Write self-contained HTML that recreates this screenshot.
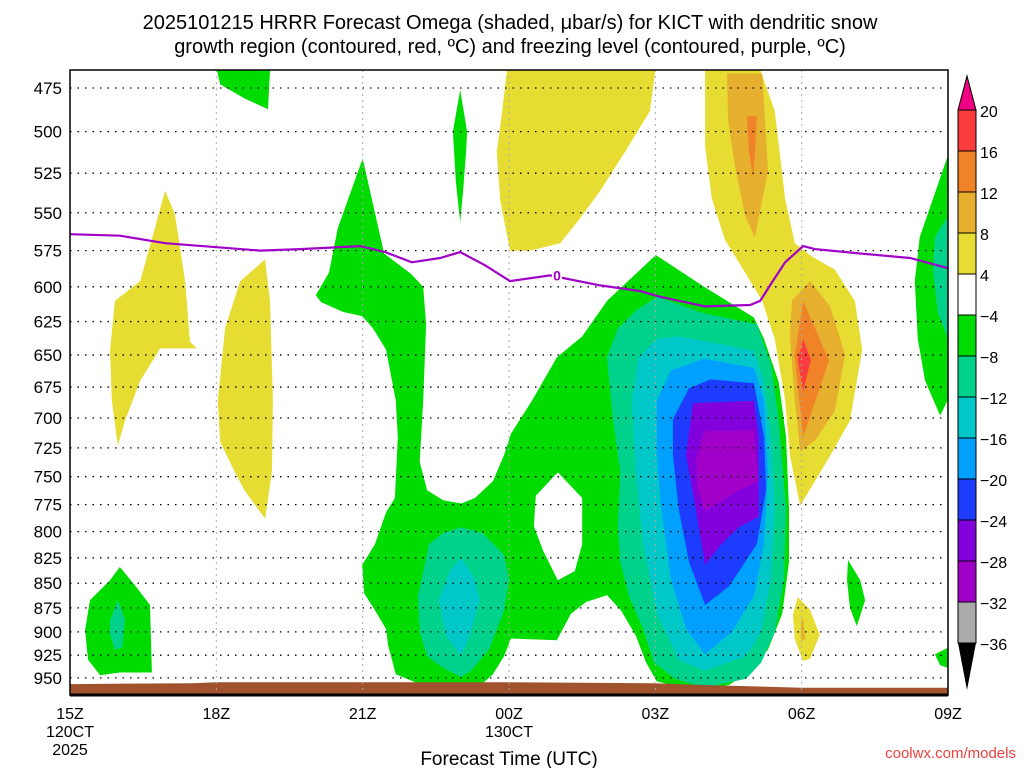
<!DOCTYPE html>
<html><head><meta charset="utf-8"><style>
body{margin:0;background:#fff;width:1024px;height:768px;overflow:hidden}
svg text{font-family:"Liberation Sans",sans-serif}
</style></head><body>
<svg id="chart" width="1024" height="768" xmlns="http://www.w3.org/2000/svg">
<text x="510" y="29" font-size="20" text-anchor="middle">2025101215 HRRR Forecast Omega (shaded, μbar/s) for KICT with dendritic snow</text>
<text x="510" y="53" font-size="20" text-anchor="middle">growth region (contoured, red, ºC) and freezing level (contoured, purple, ºC)</text>
<g id="fills"></g>
<g id="grid"></g>
<g id="lines"></g>
<g id="axes"></g>
<g id="cbar"></g>
<text x="509" y="765" font-size="19" text-anchor="middle">Forecast Time (UTC)</text>
<text x="1016" y="758" font-size="15" fill="#f04040" text-anchor="end">coolwx.com/models</text>
</svg>
<script>
const NS="http://www.w3.org/2000/svg";
const pLevels=[475,500,525,550,575,600,625,650,675,700,725,750,775,800,825,850,875,900,925,950];
const timeHours=[0,3,6,9,12,15,18];
const timeLabels=["15Z","18Z","21Z","00Z","03Z","06Z","09Z"];
const cbLevels=[20,16,12,8,4,-4,-8,-12,-16,-20,-24,-28,-32,-36];
const cbColors=["#fa3c3c","#f08228","#e6af2d","#e6dc32","#ffffff","#00dc00","#00d28c","#00c8c8","#00a0ff","#1e3cff","#8200dc","#a000c8","#aaaaaa"];
const C={y:"#e6dc32",lo:"#e6af2d",o:"#f08228",r:"#fa3c3c",g:"#00dc00",tg:"#00d28c",c:"#00c8c8",lb:"#00a0ff",b:"#1e3cff",pu:"#8200dc",m:"#a000c8",w:"#ffffff"};
const yellowRight=[[13.02,465],[14.15,465],[14.45,488],[14.66,541],[14.86,570],[15.21,579],[15.68,588],[16.09,610],[16.24,646],[15.99,702],[15.58,732],[14.97,776],[14.76,732],[14.66,685],[14.45,638],[14.19,610],[13.84,590],[13.43,568],[13.16,541],[13.02,509]];
const lightOrangeRight=[[14.8,610],[15.17,596],[15.58,614],[15.89,650],[15.68,694],[15.27,719],[14.97,728],[14.86,685],[14.76,638]];
const orangeRight=[[15.03,610],[15.56,654],[15.03,716],[14.86,651]];
const redRight=[[15.03,638],[15.19,654],[15.03,678],[14.92,654]];
const lightOrangeTop=[[13.47,467],[14.19,467],[14.31,524],[14.04,566],[13.84,552],[13.63,520],[13.49,493]];
const orangeTop=[[13.88,491],[14.08,491],[14.04,515],[14.0,527],[13.92,512]];
const yellowMid=[[8.96,465],[12.0,465],[11.89,488],[11.38,512],[10.87,536],[10.45,554],[10.05,570],[9.43,575],[9.02,575],[8.82,542],[8.75,512],[8.86,488]];
const greenSpike=[[8.0,476],[8.14,500],[8.12,512],[8.06,536],[8.0,556],[7.91,530],[7.85,500]];
const greenTopLeft=[[3.01,465],[4.1,465],[4.06,487],[3.59,481],[3.08,473]];
const yellow16=[[0.82,647],[0.92,610],[1.44,596],[1.74,560],[1.95,536],[2.15,551],[2.36,596],[2.46,640],[2.6,645],[1.85,645],[1.44,670],[1.13,702],[0.98,723],[0.86,686]];
const yellow19=[[3.03,686],[3.18,630],[3.49,596],[4.0,581],[4.1,610],[4.16,686],[4.14,746],[4.0,788],[3.59,763],[3.38,746],[3.08,720]];
const greenLL=[[0.41,867],[0.82,847],[1.02,834],[1.33,852],[1.64,872],[1.68,944],[1.02,944],[0.62,947],[0.37,930],[0.31,898]];
const tealLL=[[0.82,888],[0.98,867],[1.13,888],[1.07,917],[0.92,919],[0.82,903]];
const greenRightEdge=[[17.42,566],[18,514],[18,685],[17.84,698],[17.53,670],[17.38,638],[17.32,596]];
const tealRightEdge=[[17.73,566],[18,552],[18,638],[17.79,618],[17.69,589]];
const green07=[[15.95,827],[16.2,847],[16.3,867],[16.13,894],[15.99,875],[15.93,847]];
const yellow06=[[14.92,864],[15.17,877],[15.37,903],[15.17,929],[15.03,931],[14.86,908],[14.82,882]];
const orange06=[[14.99,888],[15.03,886],[15.07,908],[14.99,908]];
const greenBR=[[17.73,924],[18,917],[18,939],[17.84,936]];
const greenMain=[[6.0,516],[6.44,577],[6.99,591],[7.24,600],[7.30,627],[7.24,686],[7.17,737],[7.32,762],[7.65,771],[8.02,774],[8.30,769],[8.67,754],[8.90,731],[9.04,713],[9.47,686],[9.98,652],[10.5,636],[11.01,610],[12.01,578],[13.0,600],[14.02,622],[14.23,638],[14.53,671],[14.68,716],[14.74,779],[14.74,829],[14.60,881],[14.31,919],[13.94,942],[13.51,958],[13.0,962],[12.48,960],[12.03,954],[11.81,933],[11.6,904],[11.3,878],[11.01,862],[10.58,869],[10.27,881],[9.98,909],[9.04,907],[8.90,926],[8.67,946],[8.38,960],[7.93,963],[7.5,960],[7.13,956],[6.68,946],[6.52,914],[6.48,897],[6.21,874],[6.03,860],[5.99,832],[6.25,812],[6.48,782],[6.66,769],[6.72,716],[6.68,686],[6.48,646],[6.21,630],[5.99,621],[5.6,618],[5.15,611],[5.04,606],[5.31,590],[5.49,560]];
const holeMid=[[10.0,746],[10.5,769],[10.5,812],[10.35,838],[10.0,847],[9.7,818],[9.51,795],[9.55,767]];
const tealLower=[[7.13,863],[7.36,812],[7.65,801],[8.02,796],[8.45,801],[8.9,822],[9.0,846],[8.9,878],[8.59,919],[8.22,942],[8.02,949],[7.65,939],[7.32,926],[7.17,900]];
const cyanLower=[[7.56,867],[7.79,838],[8.02,825],[8.30,846],[8.4,867],[8.22,900],[8.02,926],[7.71,904]];
const tealBig=[[11.01,652],[11.23,630],[11.6,617],[12.03,607],[13.0,619],[14.08,627],[14.37,657],[14.53,701],[14.68,779],[14.64,846],[14.45,900],[14.17,933],[13.86,951],[13.0,961],[12.4,951],[11.97,933],[11.75,897],[11.46,863],[11.28,829],[11.23,796],[11.28,746],[11.13,701]];
const cyanBig=[[11.52,686],[11.66,652],[12.03,638],[12.48,636],[13.51,643],[14.02,647],[14.23,671],[14.37,716],[14.45,779],[14.37,846],[14.17,900],[13.86,926],[13.0,942],[12.48,930],[12.03,881],[11.75,812],[11.6,746]];
const lblueBig=[[12.03,686],[12.32,662],[13.0,653],[14.02,660],[14.23,686],[14.31,746],[14.23,812],[14.02,863],[13.57,900],[13.02,924],[12.63,897],[12.32,846],[12.12,779],[12.03,731]];
const blueBig=[[12.36,701],[12.69,676],[13.14,669],[14.02,672],[14.23,716],[14.27,762],[14.08,812],[13.51,853],[13.02,872],[12.69,829],[12.48,779],[12.36,731]];
const purpleBig=[[12.63,731],[12.77,688],[14.02,686],[14.12,716],[14.12,786],[13.71,796],[13.35,812],[13.02,832],[12.83,779]];
const magentaBig=[[12.83,737],[13.0,711],[14.02,710],[14.12,754],[13.71,762],[13.02,781],[12.87,762]];
const regions=[
 ["y","yellow-region-05z",yellowRight],["lo","light-orange-region-06z",lightOrangeRight],["o","orange-region-06z",orangeRight],["r","red-region-06z",redRight],
 ["lo","light-orange-region-05z",lightOrangeTop],["o","orange-region-05z",orangeTop],["y","yellow-region-01z",yellowMid],
 ["g","green-spike-23z",greenSpike],["g","green-region-top-left",greenTopLeft],["y","yellow-region-16z",yellow16],["y","yellow-region-19z",yellow19],
 ["g","green-region-lower-left",greenLL],["tg","teal-region-lower-left",tealLL],["g","green-region-right-edge",greenRightEdge],["tg","teal-region-right-edge",tealRightEdge],
 ["g","green-region-07z",green07],["y","yellow-region-06z-low",yellow06],["lo","orange-dot-06z",orange06],["g","green-region-bottom-right",greenBR],
 ["g","green-main-region",greenMain],["w","hole-region-00z",holeMid],["tg","teal-region-23z",tealLower],["c","cyan-region-23z",cyanLower],
 ["tg","teal-region-04z",tealBig],["c","cyan-region-04z",cyanBig],["lb","light-blue-region-04z",lblueBig],["b","blue-region-04z",blueBig],["pu","purple-region-04z",purpleBig],["m","magenta-region-04z",magentaBig]
];
const freezeHours=[0,1.02,1.95,3.9,4.72,5.95,6.46,7.01,7.59,8.0,8.51,9.02,9.84,10.87,11.69,12.09,13.02,13.94,14.15,14.35,14.66,15.03,15.27,16.2,17.22,18];
const freezeP=[564,565,570,575,574,572,576,583,580,576,585,596,592,599,603,607,614,613,610,599,583,572,574,577,580,587];
const terrainHours=[0,2.5,3,9,12,13,15,18];
const terrainP=[957,956,955,955,956,958,961,961];

const X0=70,X1=948,Y0=70,Y1=695;
const xs=h=>X0+h*(X1-X0)/18;
const ys=p=>88+851*Math.log(p/475);
function mk(t,a,parent){const e=document.createElementNS(NS,t);for(const k in a)e.setAttribute(k,a[k]);parent.appendChild(e);return e;}
const fills=document.getElementById('fills'),grid=document.getElementById('grid'),lines=document.getElementById('lines'),axes=document.getElementById('axes'),cbar=document.getElementById('cbar');
regions.forEach(r=>{
 const pl=mk('polygon',{points:r[2].map(q=>xs(q[0]).toFixed(1)+','+ys(q[1]).toFixed(1)).join(' '),fill:C[r[0]]},fills);
 
 
});
let tp='M'+xs(0)+','+Y1;
terrainHours.forEach((h,i)=>{tp+=' L'+xs(h).toFixed(1)+','+ys(terrainP[i]).toFixed(1);});
tp+=' L'+xs(18)+','+Y1+' Z';
const terr=mk('path',{d:tp,fill:'#a0522d'},fills);


pLevels.forEach(p=>{
 const l=mk('line',{x1:X0,x2:X1,y1:ys(p),y2:ys(p),stroke:'#000','stroke-width':1.3,'stroke-dasharray':'1.5 6'},grid);
 
 
 const t=mk('text',{x:62,y:ys(p)+6,'font-size':17,'text-anchor':'end'},axes);t.textContent=p;
 
 
});
timeHours.forEach((h,i)=>{
 if(i>0&&i<6){const l=mk('line',{x1:xs(h),x2:xs(h),y1:Y0,y2:Y1,stroke:'#aaa','stroke-width':1,'stroke-dasharray':'2 4'},grid);
 
 }
 const t=mk('text',{x:xs(h),y:719,'font-size':16,'text-anchor':'middle'},axes);t.textContent=timeLabels[i];
 
 
});
[["120CT",xs(0),737],["2025",xs(0),755],["130CT",xs(9),737]].forEach(a=>{const t=mk('text',{x:a[1],y:a[2],'font-size':16,'text-anchor':'middle'},axes);t.textContent=a[0];
 
 });
const fl=mk('polyline',{points:freezeHours.map((h,i)=>xs(h).toFixed(1)+','+ys(freezeP[i]).toFixed(1)).join(' '),fill:'none',stroke:'#a000c8','stroke-width':2.2},lines);


const lb=mk('rect',{x:xs(9.84)+2,y:ys(592)-9,width:10,height:16,fill:'#fff'},lines);


const lt=mk('text',{x:xs(9.84)+7,y:ys(592)+5,'font-size':14,'font-weight':'bold',fill:'#a000c8','text-anchor':'middle'},lines);lt.textContent='0';


const fr=mk('rect',{x:X0,y:Y0,width:X1-X0,height:Y1-Y0,fill:'none',stroke:'#000','stroke-width':1.5},axes);


const bl=mk('line',{x1:X0,x2:X1,y1:Y1,y2:Y1,stroke:'#000','stroke-width':3},axes);


const cbX=958,cbW=18,cbTop=110,cbH=41;
cbColors.forEach((c,i)=>{const r=mk('rect',{x:cbX,y:cbTop+i*cbH,width:cbW,height:cbH,fill:c,stroke:'#000','stroke-width':1},cbar);
 
 });
cbLevels.forEach((v,i)=>{const t=mk('text',{x:980,y:cbTop+i*cbH+7,'font-size':16},cbar);t.textContent=(v<0?'\u2212'+(-v):v);
 
 });
const tu=mk('polygon',{points:`${cbX},${cbTop} ${cbX+cbW},${cbTop} ${cbX+cbW/2},${cbTop-34}`,fill:'#f00082',stroke:'#000'},cbar);


const yb=cbTop+cbColors.length*cbH;
const td=mk('polygon',{points:`${cbX},${yb} ${cbX+cbW},${yb} ${cbX+cbW/2},${yb+47}`,fill:'#000'},cbar);


</script>
</body></html>
